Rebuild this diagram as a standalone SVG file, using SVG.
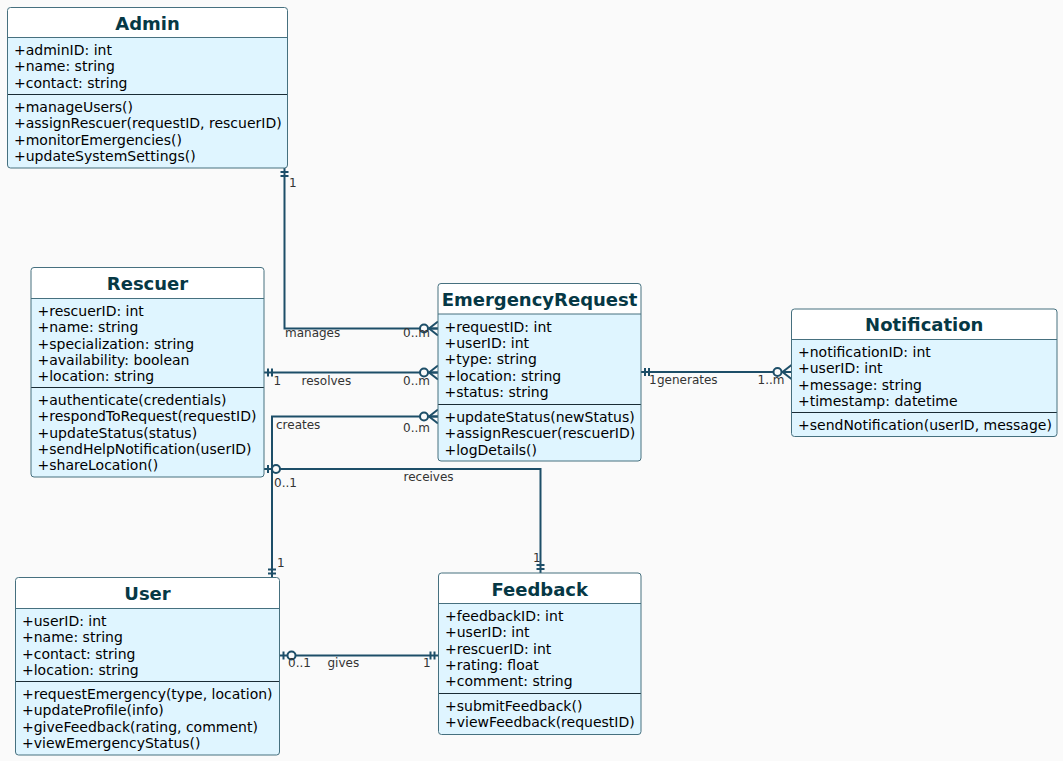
<svg xmlns="http://www.w3.org/2000/svg" width="1063" height="761" viewBox="0 0 1063 761">
<style>
.bg{fill:#FAFAFA}
.body{fill:#DFF5FF;stroke:none}
.hdr{fill:#FFFFFF;stroke:none}
.frame{fill:none;stroke:#46707F;stroke-width:1}
.hl{stroke:#46707F;stroke-width:1}
.sep{stroke:#1A2C35;stroke-width:1}
.title{font-family:"DejaVu Sans","Liberation Sans",sans-serif;font-size:18px;font-weight:bold;fill:#063845;text-anchor:middle}
.m{font-family:"DejaVu Sans","Liberation Sans",sans-serif;font-size:14px;fill:#000000}
.conn{fill:none;stroke:#1D4E68;stroke-width:2}
.lbl{font-family:"DejaVu Sans","Liberation Sans",sans-serif;font-size:12px;fill:#333333}
.mk{fill:none;stroke:#1D4E68;stroke-width:2}
.mkc{fill:#FAFAFA;stroke:#1D4E68;stroke-width:2}
</style>
<defs>
<g id="bar2"><line class="mk" x1="4" y1="-4" x2="4" y2="4"/><line class="mk" x1="8" y1="-4" x2="8" y2="4"/></g>
<g id="barO"><line class="mk" x1="4" y1="-4" x2="4" y2="4"/><circle class="mkc" cx="12" cy="0" r="4"/></g>
<g id="crowO"><line class="mk" x1="-9" y1="0" x2="0" y2="-7"/><line class="mk" x1="-9" y1="0" x2="0" y2="7"/><line class="mk" x1="-9" y1="0" x2="0" y2="0"/><circle class="mkc" cx="-14" cy="0" r="4"/></g>
</defs>
<rect class="bg" x="0" y="0" width="1063" height="761"/>

<g id="connectors">
<path class="conn" d="M284.5 168 V328.5 H438"/>
<path class="conn" d="M264 372.5 H438"/>
<path class="conn" d="M272 577.5 V416.5 H438"/>
<path class="conn" d="M264 469 H540.5 V573"/>
<path class="conn" d="M279.5 655.5 H438.5"/>
<path class="conn" d="M641 372 H791.5"/>
<use href="#bar2" transform="translate(284.5,168) rotate(90)"/>
<use href="#crowO" transform="translate(438,328.5)"/>
<use href="#bar2" transform="translate(264,372.5)"/>
<use href="#crowO" transform="translate(438,372.5)"/>
<use href="#bar2" transform="translate(272,577.5) rotate(-90)"/>
<use href="#crowO" transform="translate(438,416.5)"/>
<use href="#barO" transform="translate(264,469)"/>
<use href="#bar2" transform="translate(540.5,573) rotate(-90)"/>
<use href="#barO" transform="translate(279.5,655.5)"/>
<use href="#bar2" transform="translate(438.5,655.5) rotate(180)"/>
<use href="#bar2" transform="translate(641,372)"/>
<use href="#crowO" transform="translate(791.5,372)"/>
<text class="lbl" x="289" y="187">1</text>
<text class="lbl" x="285" y="336.5">manages</text>
<text class="lbl" x="403" y="336.5">0..m</text>
<text class="lbl" x="273.5" y="384.5">1</text>
<text class="lbl" x="301.5" y="384.5">resolves</text>
<text class="lbl" x="403" y="384.5">0..m</text>
<text class="lbl" x="276" y="429">creates</text>
<text class="lbl" x="403" y="432">0..m</text>
<text class="lbl" x="277" y="567">1</text>
<text class="lbl" x="274" y="487">0..1</text>
<text class="lbl" x="403.5" y="480.5">receives</text>
<text class="lbl" x="533" y="561.5">1</text>
<text class="lbl" x="288" y="667">0..1</text>
<text class="lbl" x="327.5" y="667">gives</text>
<text class="lbl" x="423" y="667">1</text>
<text class="lbl" x="649" y="384">1</text>
<text class="lbl" x="657" y="384">generates</text>
<text class="lbl" x="757.5" y="384">1..m</text>
</g>

<g id="admin">
<rect class="body" x="7.5" y="7.5" width="280" height="160.5" rx="3"/>
<path class="hdr" d="M7.5 37.5 V10.5 a3 3 0 0 1 3 -3 H284.5 a3 3 0 0 1 3 3 V37.5 Z"/>
<line class="hl" x1="7.5" y1="37.5" x2="287.5" y2="37.5"/>
<line class="sep" x1="7.5" y1="94.5" x2="287.5" y2="94.5"/>
<rect class="frame" x="7.5" y="7.5" width="280" height="160.5" rx="3"/>
<text class="title" x="147.5" y="30">Admin</text>
<text class="m" x="14" y="55">+adminID: int</text>
<text class="m" x="14" y="71.35">+name: string</text>
<text class="m" x="14" y="87.7">+contact: string</text>
<text class="m" x="14" y="112">+manageUsers()</text>
<text class="m" x="14" y="128.35">+assignRescuer(requestID, rescuerID)</text>
<text class="m" x="14" y="144.7">+monitorEmergencies()</text>
<text class="m" x="14" y="161.05">+updateSystemSettings()</text>
</g>

<g id="rescuer">
<rect class="body" x="31" y="267.5" width="233" height="209.5" rx="3"/>
<path class="hdr" d="M31 298.5 V270.5 a3 3 0 0 1 3 -3 H261 a3 3 0 0 1 3 3 V298.5 Z"/>
<line class="hl" x1="31" y1="298.5" x2="264" y2="298.5"/>
<line class="sep" x1="31" y1="387.5" x2="264" y2="387.5"/>
<rect class="frame" x="31" y="267.5" width="233" height="209.5" rx="3"/>
<text class="title" x="147.5" y="290">Rescuer</text>
<text class="m" x="37.5" y="316">+rescuerID: int</text>
<text class="m" x="37.5" y="332.35">+name: string</text>
<text class="m" x="37.5" y="348.7">+specialization: string</text>
<text class="m" x="37.5" y="365.05">+availability: boolean</text>
<text class="m" x="37.5" y="381.4">+location: string</text>
<text class="m" x="37.5" y="405">+authenticate(credentials)</text>
<text class="m" x="37.5" y="421.35">+respondToRequest(requestID)</text>
<text class="m" x="37.5" y="437.7">+updateStatus(status)</text>
<text class="m" x="37.5" y="454.05">+sendHelpNotification(userID)</text>
<text class="m" x="37.5" y="470.4">+shareLocation()</text>
</g>

<g id="emergencyrequest">
<rect class="body" x="438" y="283.5" width="203" height="177.5" rx="3"/>
<path class="hdr" d="M438 314 V286.5 a3 3 0 0 1 3 -3 H638 a3 3 0 0 1 3 3 V314 Z"/>
<line class="hl" x1="438" y1="314" x2="641" y2="314"/>
<line class="sep" x1="438" y1="404.5" x2="641" y2="404.5"/>
<rect class="frame" x="438" y="283.5" width="203" height="177.5" rx="3"/>
<text class="title" x="539.5" y="306">EmergencyRequest</text>
<text class="m" x="444.5" y="331.5">+requestID: int</text>
<text class="m" x="444.5" y="347.85">+userID: int</text>
<text class="m" x="444.5" y="364.2">+type: string</text>
<text class="m" x="444.5" y="380.55">+location: string</text>
<text class="m" x="444.5" y="396.9">+status: string</text>
<text class="m" x="444.5" y="422">+updateStatus(newStatus)</text>
<text class="m" x="444.5" y="438.35">+assignRescuer(rescuerID)</text>
<text class="m" x="444.5" y="454.7">+logDetails()</text>
</g>

<g id="notification">
<rect class="body" x="791.5" y="309" width="265.5" height="127.5" rx="3"/>
<path class="hdr" d="M791.5 339.5 V312 a3 3 0 0 1 3 -3 H1054 a3 3 0 0 1 3 3 V339.5 Z"/>
<line class="hl" x1="791.5" y1="339.5" x2="1057" y2="339.5"/>
<line class="sep" x1="791.5" y1="412.5" x2="1057" y2="412.5"/>
<rect class="frame" x="791.5" y="309" width="265.5" height="127.5" rx="3"/>
<text class="title" x="924.25" y="331">Notification</text>
<text class="m" x="798" y="357">+notificationID: int</text>
<text class="m" x="798" y="373.35">+userID: int</text>
<text class="m" x="798" y="389.7">+message: string</text>
<text class="m" x="798" y="406.05">+timestamp: datetime</text>
<text class="m" x="798" y="430">+sendNotification(userID, message)</text>
</g>

<g id="user">
<rect class="body" x="15.5" y="577.5" width="264" height="177.5" rx="3"/>
<path class="hdr" d="M15.5 608.5 V580.5 a3 3 0 0 1 3 -3 H276.5 a3 3 0 0 1 3 3 V608.5 Z"/>
<line class="hl" x1="15.5" y1="608.5" x2="279.5" y2="608.5"/>
<line class="sep" x1="15.5" y1="681.5" x2="279.5" y2="681.5"/>
<rect class="frame" x="15.5" y="577.5" width="264" height="177.5" rx="3"/>
<text class="title" x="147.5" y="600">User</text>
<text class="m" x="22" y="626">+userID: int</text>
<text class="m" x="22" y="642.35">+name: string</text>
<text class="m" x="22" y="658.7">+contact: string</text>
<text class="m" x="22" y="675.05">+location: string</text>
<text class="m" x="22" y="699">+requestEmergency(type, location)</text>
<text class="m" x="22" y="715.35">+updateProfile(info)</text>
<text class="m" x="22" y="731.7">+giveFeedback(rating, comment)</text>
<text class="m" x="22" y="748.05">+viewEmergencyStatus()</text>
</g>

<g id="feedback">
<rect class="body" x="438.5" y="573" width="202.5" height="161.5" rx="3"/>
<path class="hdr" d="M438.5 603.5 V576 a3 3 0 0 1 3 -3 H638 a3 3 0 0 1 3 3 V603.5 Z"/>
<line class="hl" x1="438.5" y1="603.5" x2="641" y2="603.5"/>
<line class="sep" x1="438.5" y1="693.5" x2="641" y2="693.5"/>
<rect class="frame" x="438.5" y="573" width="202.5" height="161.5" rx="3"/>
<text class="title" x="539.75" y="595.5">Feedback</text>
<text class="m" x="445" y="621">+feedbackID: int</text>
<text class="m" x="445" y="637.35">+userID: int</text>
<text class="m" x="445" y="653.7">+rescuerID: int</text>
<text class="m" x="445" y="670.05">+rating: float</text>
<text class="m" x="445" y="686.4">+comment: string</text>
<text class="m" x="445" y="711">+submitFeedback()</text>
<text class="m" x="445" y="727.35">+viewFeedback(requestID)</text>
</g>
</svg>
